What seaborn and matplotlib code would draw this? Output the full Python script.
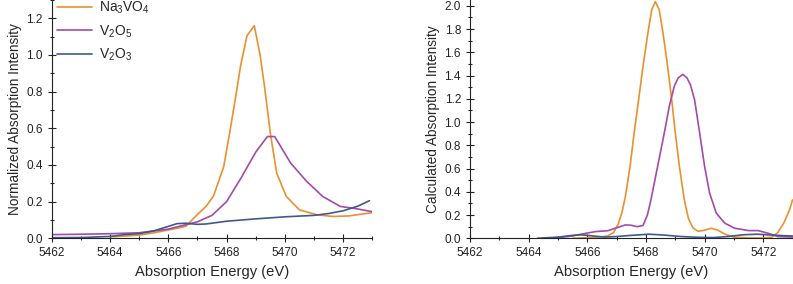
import pandas as pd
import matplotlib
matplotlib.use("Agg")
import matplotlib.pyplot as plt
import seaborn as sns
from matplotlib.ticker import MultipleLocator

# === DATA ===
series_names = ["Na$_3$VO$_4$", "V$_2$O$_5$", "V$_2$O$_3$"]
colors = ["#E8912F", "#A24BA8", "#3E5A8A"]

# measured / normalized spectra (left)
na_x_exp = [5464.0, 5464.5, 5465.0, 5465.5, 5466.0, 5466.3, 5466.6, 5467.0, 5467.3, 5467.55,
            5467.9, 5468.1, 5468.3, 5468.48, 5468.7, 5468.95, 5469.15, 5469.3, 5469.5, 5469.72,
            5470.05, 5470.5, 5471.1, 5471.65, 5472.2, 5473.0]
na_y_exp = [0.008, 0.012, 0.017, 0.03, 0.045, 0.055, 0.065, 0.13, 0.175, 0.23,
            0.39, 0.57, 0.76, 0.94, 1.105, 1.16, 1.0, 0.83, 0.575, 0.355,
            0.228, 0.155, 0.128, 0.119, 0.122, 0.14]
v5_x_exp = [5462.0, 5463.0, 5464.0, 5465.0, 5465.5, 5466.0, 5466.5, 5467.0, 5467.5, 5468.0,
            5468.5, 5469.0, 5469.4, 5469.65, 5470.2, 5470.75, 5471.3, 5471.9, 5472.5, 5473.0]
v5_y_exp = [0.02, 0.022, 0.025, 0.03, 0.04, 0.05, 0.07, 0.09, 0.125, 0.2,
            0.33, 0.47, 0.555, 0.555, 0.41, 0.31, 0.228, 0.174, 0.16, 0.145]
v3_x_exp = [5462.0, 5463.0, 5464.0, 5464.5, 5465.0, 5465.5, 5466.0, 5466.3, 5466.6, 5467.0,
            5467.3, 5468.0, 5469.0, 5470.0, 5471.0, 5471.5, 5472.0, 5472.5, 5472.9]
v3_y_exp = [0.003, 0.004, 0.01, 0.02, 0.025, 0.04, 0.065, 0.08, 0.082, 0.076,
            0.078, 0.093, 0.106, 0.117, 0.125, 0.135, 0.15, 0.175, 0.205]

# calculated spectra (right)
na_x_calc = [5465.5, 5466.0, 5466.4, 5466.7, 5466.9, 5467.05, 5467.18, 5467.3, 5467.46, 5467.6,
             5467.75, 5467.9, 5468.07, 5468.2, 5468.32, 5468.45, 5468.58, 5468.74, 5468.88, 5469.0,
             5469.14, 5469.31, 5469.45, 5469.6, 5469.78, 5470.0, 5470.23, 5470.45, 5470.7, 5471.0,
             5471.5, 5472.0, 5472.3, 5472.5, 5472.7, 5472.9, 5473.0]
na_y_calc = [0.0, 0.005, 0.01, 0.02, 0.05, 0.12, 0.22, 0.36, 0.62, 0.91,
             1.19, 1.48, 1.77, 1.97, 2.035, 1.97, 1.77, 1.48, 1.19, 0.91,
             0.62, 0.33, 0.17, 0.09, 0.06, 0.07, 0.086, 0.07, 0.035, 0.01,
             0.003, 0.003, 0.01, 0.05, 0.13, 0.245, 0.33]
v5_x_calc = [5464.5, 5465.0, 5465.5, 5466.0, 5466.3, 5466.7, 5467.0, 5467.3, 5467.5, 5467.7,
             5467.9, 5468.05, 5468.17, 5468.4, 5468.63, 5468.8, 5468.97, 5469.1, 5469.26, 5469.4,
             5469.52, 5469.66, 5469.83, 5470.0, 5470.17, 5470.4, 5470.69, 5471.03, 5471.3, 5471.5,
             5471.83, 5472.17, 5472.5, 5473.0]
v5_y_calc = [0.0, 0.005, 0.02, 0.045, 0.058, 0.065, 0.09, 0.115, 0.112, 0.1,
             0.11, 0.2, 0.33, 0.62, 0.91, 1.14, 1.31, 1.38, 1.41, 1.38,
             1.32, 1.19, 0.91, 0.62, 0.39, 0.216, 0.13, 0.086, 0.075, 0.066,
             0.066, 0.043, 0.015, 0.01]
v3_x_calc = [5464.3, 5465.0, 5465.5, 5465.8, 5466.2, 5466.6, 5467.0, 5467.5, 5468.1, 5468.6,
             5469.2, 5469.8, 5470.3, 5470.8, 5471.3, 5471.8, 5472.3, 5472.7, 5473.0]
v3_y_calc = [0.0, 0.01, 0.025, 0.03, 0.02, 0.01, 0.015, 0.025, 0.035, 0.028,
             0.015, 0.008, 0.006, 0.015, 0.03, 0.035, 0.028, 0.022, 0.02]


def make_df(pairs):
    frames = []
    for name, (x, y) in zip(series_names, pairs):
        frames.append(pd.DataFrame({"energy": x, "intensity": y, "sample": name}))
    return pd.concat(frames, ignore_index=True)


exp_df = make_df([(na_x_exp, na_y_exp), (v5_x_exp, v5_y_exp), (v3_x_exp, v3_y_exp)])
calc_df = make_df([(na_x_calc, na_y_calc), (v5_x_calc, v5_y_calc), (v3_x_calc, v3_y_calc)])
palette = dict(zip(series_names, colors))

# === STYLE ===
sns.set_style("ticks")
plt.rcParams["font.family"] = ["Liberation Sans", "DejaVu Sans"]
plt.rcParams["mathtext.fontset"] = "custom"
plt.rcParams["mathtext.rm"] = "Liberation Sans"
plt.rcParams["mathtext.default"] = "regular"

fig = plt.figure(figsize=(7.93, 2.84), dpi=100)
ax1 = fig.add_axes([0.0652, 0.161, 0.4043, 0.839])
ax2 = fig.add_axes([0.5927, 0.161, 0.4067, 0.839])

for ax, df, ylab, ytop, legend in [
    (ax1, exp_df, "Normalized Absorption Intensity", 1.3, True),
    (ax2, calc_df, "Calculated Absorption Intensity", 2.05, False),
]:
    sns.lineplot(data=df, x="energy", y="intensity", hue="sample", palette=palette,
                 sort=False, estimator=None, linewidth=1.2, ax=ax, legend=legend)
    ax.set_xlim(5462, 5473)
    ax.set_ylim(0, ytop)
    ax.xaxis.set_major_locator(MultipleLocator(2))
    ax.xaxis.set_minor_locator(MultipleLocator(1))
    ax.yaxis.set_major_locator(MultipleLocator(0.2))
    ax.yaxis.set_minor_locator(MultipleLocator(0.1))
    ax.tick_params(which="major", direction="inout", length=6, width=0.8, labelsize=8.5, colors="#222222")
    ax.tick_params(which="minor", direction="inout", length=3, width=0.8)
    ax.set_xlabel("Absorption Energy (eV)", fontsize=10.6)
    ax.set_ylabel(ylab, fontsize=9.8, labelpad=3)
    sns.despine(ax=ax)
    for s in ["left", "bottom"]:
        ax.spines[s].set_linewidth(0.8)
        ax.spines[s].set_color("#222222")

leg = ax1.legend(loc="upper left", bbox_to_anchor=(-0.005, 1.03), frameon=False, fontsize=10,
                 handlelength=2.5, labelspacing=0.5, handletextpad=0.5, borderaxespad=0.1)
for line in leg.get_lines():
    line.set_linewidth(1.2)

fig.savefig("out.png", dpi=100)
